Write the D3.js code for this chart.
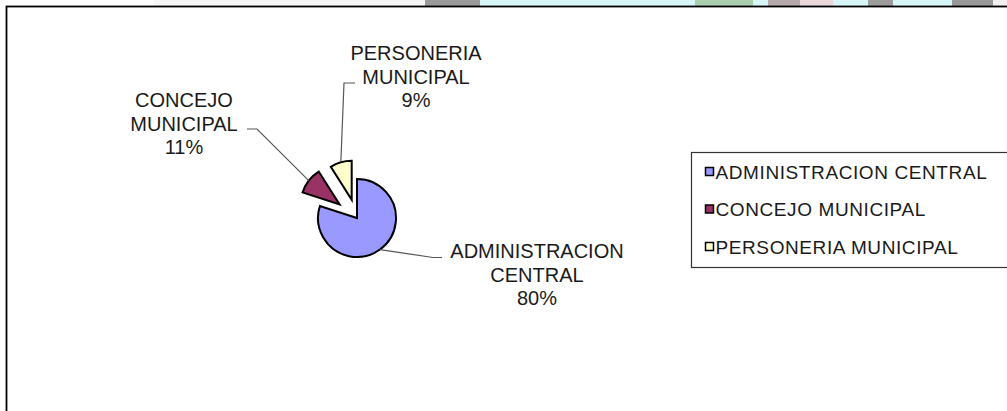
<!DOCTYPE html>
<html>
<head>
<meta charset="utf-8">
<script src="https://cdn.jsdelivr.net/npm/d3@7"></script>
<style>
  body { margin: 0; background: #fff; }
  svg { display: block; font-family: "Liberation Sans", Arial, sans-serif; }
</style>
</head>
<body>
<div id="chart"></div>
<script>
// data
var categories = ["ADMINISTRACION CENTRAL", "CONCEJO MUNICIPAL", "PERSONERIA MUNICIPAL"];
var values = [80, 11, 9];
// label lines as shown next to the slices
var labelLines = [["ADMINISTRACION", "CENTRAL"], ["CONCEJO", "MUNICIPAL"], ["PERSONERIA", "MUNICIPAL"]];

var colors = ["#9999FF", "#993366", "#FFFFCC"];
var explode = [0, 22, 19];

// layout of labels / leader lines (per slice)
var labelPos = [
    { x: 537, y: 258, elbow: [433, 257.5], end: [442, 257.5] },
    { x: 184, y: 107, elbow: [257, 129], end: [247, 129] },
    { x: 416, y: 60, elbow: [344, 83], end: [355, 83] }
];

var svgWidth = 1007;
var svgHeight = 411;
var cx = 357, cy = 218, radius = 39;
var lineH = 23.5;

var svg = d3.select("#chart")
    .append("svg")
    .attr("width", svgWidth)
    .attr("height", svgHeight);

// strip of the page behind the chart (top edge)
var strip = [
    [0, 154, "#ffffff"], [154, 425, "#f6f6f6"], [425, 480, "#9a9a9a"], [480, 695, "#d6f6f8"],
    [695, 753, "#a9cfae"], [753, 768, "#d6f6f8"], [768, 800, "#b5a9ab"], [800, 833, "#ead7da"],
    [833, 868, "#d6f6f8"], [868, 893, "#9c9c9c"], [893, 952, "#d6f6f8"], [952, 993, "#999999"],
    [993, 1007, "#f0f0f0"]
];
svg.selectAll("rect.strip")
    .data(strip)
    .enter()
    .append("rect")
    .attr("x", d => d[0])
    .attr("y", 0)
    .attr("width", d => d[1] - d[0])
    .attr("height", 6)
    .attr("fill", d => d[2]);

// chart area border
svg.append("rect")
    .attr("x", 6.5)
    .attr("y", 6.5)
    .attr("width", 1020)
    .attr("height", 430)
    .attr("fill", "#fff")
    .attr("stroke", "#000")
    .attr("stroke-width", 1.8);

var pie = d3.pie().sort(null).value(d => d)(values);
var arc = d3.arc().innerRadius(0).outerRadius(radius);

function offset(d, i) {
    var mid = (d.startAngle + d.endAngle) / 2;
    return [Math.sin(mid) * explode[i], -Math.cos(mid) * explode[i]];
}

var total = d3.sum(values);
var pieGroup = svg.append("g").attr("transform", `translate(${cx}, ${cy})`);

// leader lines
pie.forEach(function(d, i) {
    var o = offset(d, i);
    var mid = (d.startAngle + d.endAngle) / 2;
    var p0 = [cx + o[0] + Math.sin(mid) * radius, cy + o[1] - Math.cos(mid) * radius];
    var pts = [p0, labelPos[i].elbow, labelPos[i].end];
    svg.append("path")
        .attr("d", d3.line()(pts))
        .attr("fill", "none")
        .attr("stroke", "#555")
        .attr("stroke-width", 1.2);
});

// slices
pieGroup.selectAll("path.slice")
    .data(pie)
    .enter()
    .append("path")
    .attr("class", "slice")
    .attr("transform", (d, i) => `translate(${offset(d, i)})`)
    .attr("d", arc)
    .attr("fill", (d, i) => colors[i])
    .attr("stroke", "#000")
    .attr("stroke-width", 2)
    .attr("stroke-linejoin", "miter");

// slice labels
pie.forEach(function(d, i) {
    var lines = labelLines[i].concat([Math.round(values[i] / total * 100) + "%"]);
    var t = svg.append("text")
        .attr("text-anchor", "middle")
        .attr("font-size", 20)
        .attr("fill", "#1a1a1a");
    lines.forEach(function(s, k) {
        t.append("tspan")
            .attr("x", labelPos[i].x)
            .attr("y", labelPos[i].y + k * lineH)
            .text(s);
    });
});

// legend
var legend = svg.append("g").attr("transform", "translate(691.5, 152.5)");
legend.append("rect")
    .attr("width", 330)
    .attr("height", 115)
    .attr("fill", "#fff")
    .attr("stroke", "#333")
    .attr("stroke-width", 1.2);

var rows = legend.selectAll("g.row")
    .data(categories)
    .enter()
    .append("g")
    .attr("transform", (d, i) => `translate(0, ${19 + i * 37.5})`);

rows.append("rect")
    .attr("x", 14)
    .attr("y", -4)
    .attr("width", 8)
    .attr("height", 8)
    .attr("fill", (d, i) => colors[i])
    .attr("stroke", "#000")
    .attr("stroke-width", 1.5);

rows.append("text")
    .attr("x", 24)
    .attr("y", 7)
    .attr("font-size", 19)
    .attr("letter-spacing", 0.6)
    .attr("fill", "#1a1a1a")
    .text(d => d);
</script>
</body>
</html>
